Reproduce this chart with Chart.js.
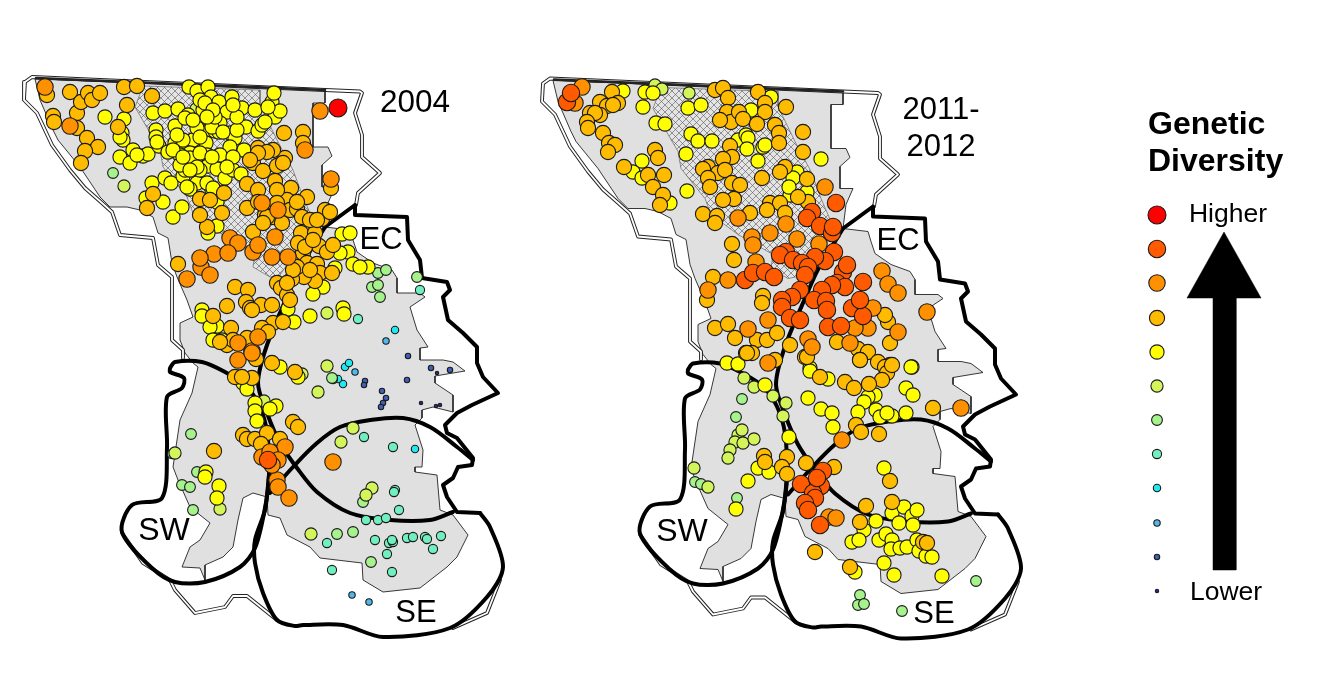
<!DOCTYPE html>
<html>
<head>
<meta charset="utf-8">
<style>
body { margin: 0; background: #fff; overflow: hidden; }
canvas { display: block; }
</style>
<script src="https://cdn.jsdelivr.net/npm/chart.js@4"></script>
</head>
<body>
<canvas id="map" width="1336" height="687"></canvas>
<script>
// map shapes (the 2011-2012 panel is the same map shifted)
const panelShift = [518, 1.5];
const grayArea = [[35,79],[325,90],[325,103],[313,103],[313,147],[328,147],[332,156],[322,165],[322,187],[335,187],[328,203],[325,227],[350,230],[353,240],[357,252],[373,263],[392,270],[397,278],[397,293],[420,293],[425,297],[410,307],[417,330],[428,347],[420,348],[420,360],[443,360],[453,362],[465,371],[435,376],[435,383],[453,395],[453,412],[433,407],[422,410],[422,418],[415,425],[423,450],[422,467],[415,467],[415,472],[437,475],[440,510],[453,515],[468,535],[457,557],[447,567],[420,588],[383,592],[363,580],[362,563],[320,558],[310,547],[287,535],[280,518],[268,515],[267,497],[253,493],[243,498],[238,520],[233,547],[223,557],[205,565],[205,580],[200,568],[182,567],[190,547],[200,540],[210,523],[190,507],[178,480],[173,467],[180,420],[192,393],[198,367],[193,363],[185,353],[180,340],[180,323],[193,317],[187,300],[177,277],[172,263],[168,238],[158,233],[153,217],[140,210],[127,207],[110,207],[100,197],[80,167],[58,140],[53,130],[40,100]];
const hatchArea = [[143,86],[260,90],[260,105],[277,140],[293,170],[303,197],[313,220],[300,245],[280,275],[270,277],[253,267],[255,253],[220,233],[193,213],[187,197],[163,167],[160,150],[135,107]];
const outerNorth = [[356,205],[358,193],[380,173],[362,157],[362,135],[355,113],[362,93],[360,91.5],[325,90],[32,77],[25,82],[24,100],[37,113],[52,145],[70,170],[85,188],[102,203],[112,212],[120,235],[153,238],[158,265],[172,277],[172,340],[183,350],[183,358]];
const outerSouth = [[122,533],[143,563],[170,580],[175,590],[195,613],[225,607],[233,596],[247,596],[277,620]];
const outerEast = [[453,628],[487,613],[500,580]];
const lineTop = [[36,78],[325,90]];
const lineEast = [[325,227],[355,205],[355,215],[407,217],[408,240],[420,260],[422,278],[447,282],[450,290],[443,297],[448,320],[463,333],[477,347],[477,363],[483,377],[498,393],[472,405],[457,413],[445,425],[447,433],[457,438],[473,458],[472,465],[458,467],[453,478],[443,485],[447,497],[457,512],[480,513]];
const lineSouthEast = [[480,513],[490,527],[503,567],[487,597],[450,628],[383,637],[343,625],[303,625],[295,626],[277,620],[263,593],[255,563],[255,540],[265,510],[269,475]];
const lineCentral = [[325,227],[300,268],[290,290],[267,345],[258,383],[267,413],[280,443],[297,468],[317,492],[350,513],[390,520],[430,520],[453,512]];
const lineLens = [[270,493],[293,467],[317,443],[340,427],[370,420],[403,418],[430,427],[457,447],[473,460]];
const lineSW = [[170,368],[175,362],[202,362],[225,372],[245,385],[259,405],[267,432],[269,475],[265,508],[255,548],[240,567],[205,582],[175,582],[152,568],[122,532],[132,505],[162,498],[167,448],[167,397],[182,388],[184,378],[170,372],[170,368]];
const arrowShape = [[1224,232],[1261,298],[1236,298],[1236,570],[1213,570],[1213,298],[1187,298]];

// sampling sites 2004, one array per diversity class
const y04small = [[437,373],[421,403],[436,406],[440,405]];
const y04navy = [[408,356],[431,368],[450,370],[407,380],[365,381],[364,385],[382,391],[386,398],[383,403],[381,407]];
const y04blue = [[355,372],[352,595],[369,602],[386,341]];
const y04cyan = [[345,367],[349,363],[343,384],[338,379],[415,449],[395,330]];
const y04aqua = [[172,454],[364,437],[393,447],[395,490],[394,492],[399,510],[366,520],[378,520],[386,518],[327,543],[375,540],[389,543],[393,542],[392,540],[407,538],[413,537],[425,537],[427,539],[441,536],[433,549],[387,554],[332,570],[392,572],[333,379],[420,290],[358,319]];
const y04green = [[113,173],[191,434],[197,472],[182,485],[190,487],[193,510],[363,502],[337,534],[353,532],[371,562],[332,378],[217,113],[378,273],[386,270],[372,287],[378,285],[380,297],[417,277]];
const y04lime = [[124,186],[196,109],[204,118],[327,313],[327,366],[318,392],[264,401],[295,371],[302,374],[341,442],[353,428],[372,488],[366,495],[311,534],[220,509],[175,453]];
const y04yellow = [[105,117],[124,119],[122,133],[123,140],[133,150],[120,157],[130,163],[143,156],[148,154],[152,183],[146,198],[163,202],[173,217],[182,207],[165,178],[171,183],[183,176],[197,183],[190,189],[153,113],[165,111],[178,109],[189,87],[197,91],[208,87],[211,97],[219,102],[232,97],[227,112],[242,108],[255,110],[272,102],[274,93],[275,117],[280,111],[268,107],[188,115],[175,126],[156,130],[156,137],[159,146],[168,152],[175,143],[186,148],[193,140],[204,133],[215,131],[219,132],[206,143],[230,133],[235,138],[246,127],[258,131],[262,125],[230,147],[244,150],[220,155],[207,155],[193,164],[208,166],[185,170],[217,169],[225,178],[233,170],[241,174],[212,190],[217,202],[217,226],[208,233],[342,234],[350,233],[348,252],[340,253],[353,264],[368,267],[360,267],[335,268],[323,287],[313,294],[288,309],[294,322],[310,316],[343,308],[344,314],[202,310],[202,316],[217,326],[210,327],[213,340],[222,340],[197,128],[220,123],[212,127],[185,118],[203,110],[215,117],[190,153],[180,155],[200,170],[180,165],[190,158],[280,367],[298,377],[243,383],[247,389],[255,403],[276,406],[255,411],[257,421],[270,409],[219,486],[217,498],[206,472],[205,477],[200,100],[205,103],[213,110],[193,120],[207,117],[223,132],[237,130],[200,137],[183,140],[177,135],[173,150],[200,153],[183,157],[212,157],[197,167],[190,170],[233,157],[227,167],[207,183],[213,188],[187,187],[237,117],[233,105],[265,122],[157,142],[120,137],[137,155]];
const y04gold = [[47,95],[70,92],[53,116],[54,122],[77,113],[77,128],[81,102],[88,93],[92,100],[100,93],[87,138],[98,147],[85,151],[81,163],[124,87],[137,86],[127,105],[118,127],[152,96],[284,133],[303,132],[303,143],[331,188],[153,194],[147,208],[178,264],[207,227],[200,215],[200,199],[210,200],[222,213],[224,193],[247,184],[247,208],[258,148],[253,163],[263,171],[277,166],[285,158],[275,181],[291,188],[307,197],[258,190],[253,232],[265,215],[273,217],[282,223],[287,200],[290,210],[297,209],[302,217],[301,233],[315,233],[322,219],[325,210],[330,212],[319,246],[327,252],[303,253],[307,263],[317,264],[320,273],[315,281],[304,277],[292,279],[277,283],[281,288],[287,295],[235,287],[248,290],[246,302],[250,308],[261,305],[272,305],[227,306],[213,316],[231,328],[227,345],[273,323],[262,328],[247,338],[256,359],[272,363],[295,372],[235,377],[252,378],[242,377],[243,435],[247,439],[255,439],[267,433],[261,444],[280,439],[293,422],[298,427],[214,451],[273,150],[267,152],[258,153],[250,160],[283,163],[277,190],[258,202],[267,217],[263,223],[277,203],[297,202],[310,220],[317,220],[298,243],[305,247],[313,240],[333,245],[297,267],[310,270],[332,273],[293,270],[287,283],[290,300],[252,310],[283,322],[268,332],[233,340],[220,342]];
const y04orange = [[45,87],[70,126],[320,111],[305,150],[331,179],[187,279],[201,267],[210,275],[214,254],[230,238],[238,243],[228,253],[253,252],[258,245],[275,237],[272,257],[288,257],[262,203],[278,210],[200,258],[238,343],[252,351],[258,337],[238,360],[252,353],[285,447],[277,480],[278,487],[289,498],[333,462],[262,457],[270,452],[278,460],[272,465]];
const y04deep = [[268,460]];
const y04red = [[338,108]];

// sampling sites 2011-2012
const y11green = [[742,399],[736,417],[737,498],[695,482],[701,484],[860,595],[858,605],[864,604],[902,611],[976,581]];
const y11lime = [[655,85],[662,89],[689,93],[744,378],[754,387],[773,396],[786,403],[783,416],[738,435],[742,430],[735,442],[743,443],[730,450],[728,458],[754,439],[694,468],[708,487]];
const y11yellow = [[623,91],[645,92],[653,93],[643,107],[656,123],[665,124],[688,108],[701,105],[691,134],[698,141],[712,141],[686,154],[738,140],[746,135],[748,138],[747,149],[763,147],[765,145],[758,161],[751,110],[771,97],[821,159],[633,172],[642,161],[642,178],[670,203],[687,191],[790,195],[807,192],[797,172],[793,178],[789,187],[912,367],[810,368],[727,363],[738,364],[765,385],[789,437],[758,468],[769,472],[748,481],[736,509],[810,371],[828,379],[808,398],[821,409],[832,413],[833,427],[911,367],[906,388],[913,395],[875,395],[868,397],[864,402],[876,410],[858,412],[880,417],[892,416],[887,413],[906,413],[884,468],[876,521],[892,513],[904,507],[912,516],[917,510],[899,523],[913,525],[864,530],[852,542],[859,540],[879,540],[886,534],[892,540],[891,549],[900,548],[907,547],[917,540],[919,551],[926,556],[932,557],[884,563],[894,575],[942,576],[855,572]];
const y11gold = [[612,92],[600,102],[607,106],[618,103],[613,105],[590,113],[600,115],[595,113],[587,122],[588,128],[603,133],[609,143],[615,145],[608,152],[624,167],[655,150],[658,158],[648,175],[664,175],[653,187],[663,195],[660,205],[715,90],[723,88],[728,98],[758,92],[765,103],[765,112],[786,107],[727,112],[731,122],[720,120],[739,112],[743,119],[757,124],[775,125],[779,133],[779,143],[803,132],[803,152],[730,146],[732,157],[723,159],[708,167],[703,169],[718,173],[725,170],[708,178],[710,187],[732,183],[740,185],[734,199],[723,200],[785,167],[780,172],[762,178],[807,179],[770,203],[780,203],[767,210],[808,202],[798,197],[785,213],[703,214],[717,216],[715,223],[750,213],[732,244],[734,260],[713,277],[707,300],[763,296],[762,303],[715,328],[728,324],[735,338],[757,340],[767,340],[746,353],[752,353],[775,360],[837,342],[858,349],[868,352],[860,360],[878,362],[888,322],[885,315],[890,343],[890,365],[885,367],[777,333],[805,357],[790,345],[747,353],[807,357],[820,377],[845,382],[854,388],[860,360],[887,373],[892,365],[882,380],[869,384],[933,408],[856,425],[861,432],[879,434],[834,467],[806,463],[764,456],[765,462],[787,457],[782,467],[787,474],[890,481],[815,552],[866,506],[860,522],[892,502],[923,542],[927,543],[850,567]];
const y11orange = [[582,87],[575,103],[825,187],[786,224],[752,237],[753,245],[756,262],[770,233],[797,239],[819,244],[882,271],[888,284],[898,293],[927,312],[873,308],[868,328],[855,328],[768,320],[748,329],[808,339],[812,347],[728,280],[708,290],[898,332],[850,343],[768,363],[738,218],[842,440],[961,408],[829,517],[836,518]];
const y11deep = [[567,102],[571,93],[836,203],[812,212],[807,218],[820,226],[832,233],[833,227],[834,252],[825,261],[815,257],[786,252],[780,255],[793,260],[802,263],[808,267],[805,275],[843,272],[847,265],[837,283],[845,287],[863,282],[832,285],[800,290],[792,297],[782,300],[782,307],[790,318],[800,320],[822,290],[814,300],[826,301],[827,310],[828,327],[841,326],[852,308],[863,316],[860,300],[745,280],[753,273],[765,272],[774,277],[823,471],[801,484],[821,486],[813,493],[807,505],[820,525],[815,498],[805,503],[808,510],[817,478]];

// legend
const legendX = 1157;
const legendY = [215, 249, 283, 318, 352, 386, 420, 454, 488, 523, 557, 591];
const classColors = ["#ff0000", "#ff5a00", "#ff9000", "#ffbb00", "#ffff00", "#d4f55a", "#a6f28c", "#70f0c0", "#22e8f0", "#50b8e8", "#4060b8", "#2a2a90"];
const classRadii = [9, 8.7, 8.2, 7.6, 7.1, 6.1, 5.4, 4.6, 3.7, 3.2, 2.7, 1.7];

const textLabels = [
	["2004", 415, 103, "31.5px"], ["2011-", 941, 110, "31px"], ["2012", 941, 147, "31px"],
	["EC", 381, 240, "31px"], ["SW", 164, 531, "32px"], ["SE", 416, 613, "31px"],
	["EC", 898, 241, "31px"], ["SW", 682, 532, "32px"], ["SE", 934, 614, "31px"],
	["Higher", 1228, 215, "26.5px"], ["Lower", 1226, 593, "26.5px"]
];
const titleLabels = [["Genetic", 1148, 125], ["Diversity", 1148, 162]];

function toPoints(list, shift) {
	let dx = shift ? shift[0] : 0;
	let dy = shift ? shift[1] : 0;
	return list.map((p) => {
		return { x: p[0] + dx, y: p[1] + dy };
	});
}

function makeHatch() {
	let tile = document.createElement("canvas");
	tile.width = 7;
	tile.height = 7;
	let c = tile.getContext("2d");
	c.fillStyle = "#e4e4e4";
	c.fillRect(0, 0, 7, 7);
	c.strokeStyle = "#555";
	c.lineWidth = 0.6;
	c.beginPath();
	c.moveTo(0, 0);
	c.lineTo(7, 7);
	c.moveTo(7, 0);
	c.lineTo(0, 7);
	c.stroke();
	return c.createPattern(tile, "repeat");
}

let datasets = [];

function addLine(list, shift, color, width, tension) {
	datasets.push({
		data: toPoints(list, shift), showLine: true, fill: false, tension: tension || 0,
		borderColor: color, borderWidth: width, pointRadius: 0,
		borderJoinStyle: "round", borderCapStyle: "round"
	});
}

function addShape(list, shift, fillColor, lineColor, width) {
	datasets.push({
		data: toPoints(list.concat([list[0]]), shift), showLine: true, fill: "shape", tension: 0,
		backgroundColor: fillColor, borderColor: lineColor, borderWidth: width, pointRadius: 0
	});
}

function addMap(shift) {
	addShape(grayArea, shift, "#e0e0e0", "#222", 0.9);
	addShape(hatchArea, shift, makeHatch(), "#666", 0.7);
	[outerNorth, outerSouth, outerEast].forEach((part) => {
		addLine(part, shift, "#222", 3.8);
		addLine(part, shift, "#fff", 1.8);
	});
	addLine(lineTop, shift, "#222", 2.6);
	addLine(lineEast, shift, "#000", 4);
	addLine(lineSouthEast, shift, "#000", 4, 0.3);
	addLine(lineCentral, shift, "#000", 4, 0.3);
	addLine(lineLens, shift, "#000", 4, 0.35);
	addLine(lineSW, shift, "#000", 4, 0.3);
}

function addSites(list, cls) {
	datasets.push({
		data: toPoints(list), showLine: false,
		backgroundColor: classColors[cls], borderColor: "#1a1a1a", borderWidth: 1.1,
		pointRadius: classRadii[cls]
	});
}

addMap(null);
addMap(panelShift);

addSites(y04small, 11);
addSites(y04navy, 10);
addSites(y04blue, 9);
addSites(y04cyan, 8);
addSites(y04aqua, 7);
addSites(y04green, 6);
addSites(y04lime, 5);
addSites(y04yellow, 4);
addSites(y04gold, 3);
addSites(y04orange, 2);
addSites(y04deep, 1);
addSites(y04red, 0);

addSites(y11green, 6);
addSites(y11lime, 5);
addSites(y11yellow, 4);
addSites(y11gold, 3);
addSites(y11orange, 2);
addSites(y11deep, 1);

legendY.forEach((y, i) => {
	addSites([[legendX, y]], i);
});

addShape(arrowShape, null, "#000", "#000", 0.5);

// later datasets go on top, chart.js wants the opposite so flip with order
datasets.forEach((d, i) => {
	d.order = datasets.length - i;
});

const textPlugin = {
	id: "mapText",
	afterDatasetsDraw(chart) {
		let ctx = chart.ctx;
		let sx = chart.scales.x;
		let sy = chart.scales.y;
		ctx.save();
		ctx.fillStyle = "#000";
		ctx.textBaseline = "middle";
		ctx.textAlign = "center";
		textLabels.forEach((t) => {
			ctx.font = t[3] + " 'Liberation Sans', Arial, sans-serif";
			ctx.fillText(t[0], sx.getPixelForValue(t[1]), sy.getPixelForValue(t[2]));
		});
		ctx.textAlign = "left";
		ctx.font = "bold 32px 'Liberation Sans', Arial, sans-serif";
		titleLabels.forEach((t) => {
			ctx.fillText(t[0], sx.getPixelForValue(t[1]), sy.getPixelForValue(t[2]));
		});
		ctx.restore();
	}
};

new Chart(document.getElementById("map"), {
	type: "scatter",
	data: { datasets: datasets },
	plugins: [textPlugin],
	options: {
		responsive: false,
		animation: false,
		devicePixelRatio: 1,
		layout: { padding: 0, autoPadding: false },
		plugins: { legend: { display: false }, tooltip: { enabled: false } },
		scales: {
			x: { type: "linear", min: 0, max: 1336, display: false },
			y: { type: "linear", min: 0, max: 687, reverse: true, display: false }
		}
	}
});
</script>
</body>
</html>
